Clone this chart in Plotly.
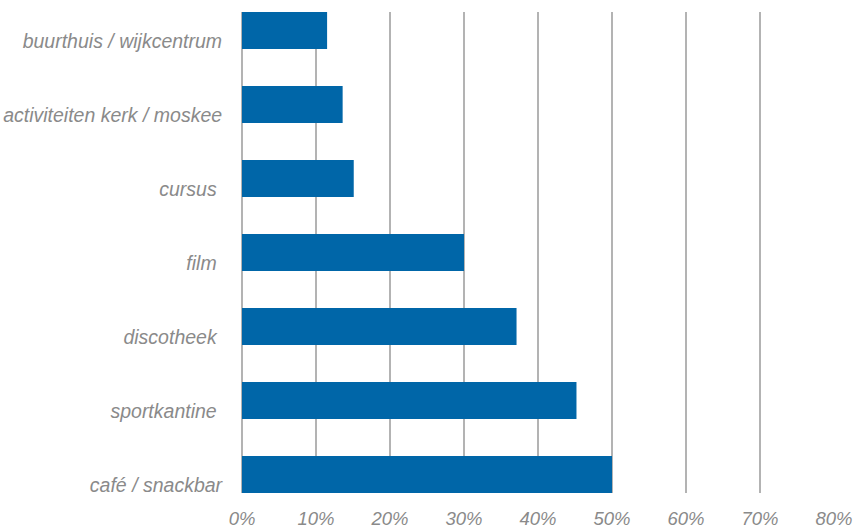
import plotly.graph_objects as go

categories = ["café / snackbar", "sportkantine", "discotheek", "film", "cursus",
              "activiteiten kerk / moskee", "buurthuis / wijkcentrum"]
values = [0.50, 0.452, 0.371, 0.30, 0.151, 0.136, 0.115]
x_ticks = [0, 0.1, 0.2, 0.3, 0.4, 0.5, 0.6, 0.7, 0.8]
# some labels in the original carry a trailing space
padded = ["sportkantine", "discotheek", "film", "cursus"]

font_family = "Liberation Sans, Arial, sans-serif"
y_font = dict(family=font_family, size=19.5, color="#8a8a8a", style="italic")
x_font = dict(family=font_family, size=18.5, color="#8a8a8a", style="italic")

fig = go.Figure()
fig.add_trace(go.Bar(x=values, y=categories, orientation="h",
                     marker=dict(color="#0066a8", line=dict(width=0)),
                     width=0.5))

fig.update_layout(
    width=861, height=528,
    margin=dict(l=242, r=27, t=12, b=35),
    paper_bgcolor="white", plot_bgcolor="white",
    showlegend=False,
    bargap=0.5,
)
fig.update_xaxes(range=[0, 0.8], tickvals=x_ticks, tickformat=".0%", automargin=False,
                 showgrid=True, gridcolor="#b3b3b3", gridwidth=1.5,
                 zeroline=True, zerolinecolor="#b3b3b3", zerolinewidth=1.5,
                 tickfont=x_font, ticks="outside", ticklen=9, tickcolor="rgba(0,0,0,0)")
# labels in the original sit a little below the bar centres
fig.update_yaxes(range=[-0.25, 6.25], showgrid=False, zeroline=False, automargin=False,
                 tickvals=categories,
                 ticktext=[c + "\u00a0" if c in padded else c for c in categories],
                 tickfont=y_font, ticks="outside", ticklen=15, tickcolor="rgba(0,0,0,0)",
                 ticklabelshift=11)

# page body has an 8px default margin; drop it so the figure sits at 0,0
fig.write_html("out.html", config={"displayModeBar": False},
               post_script="document.body.style.margin='0';")
